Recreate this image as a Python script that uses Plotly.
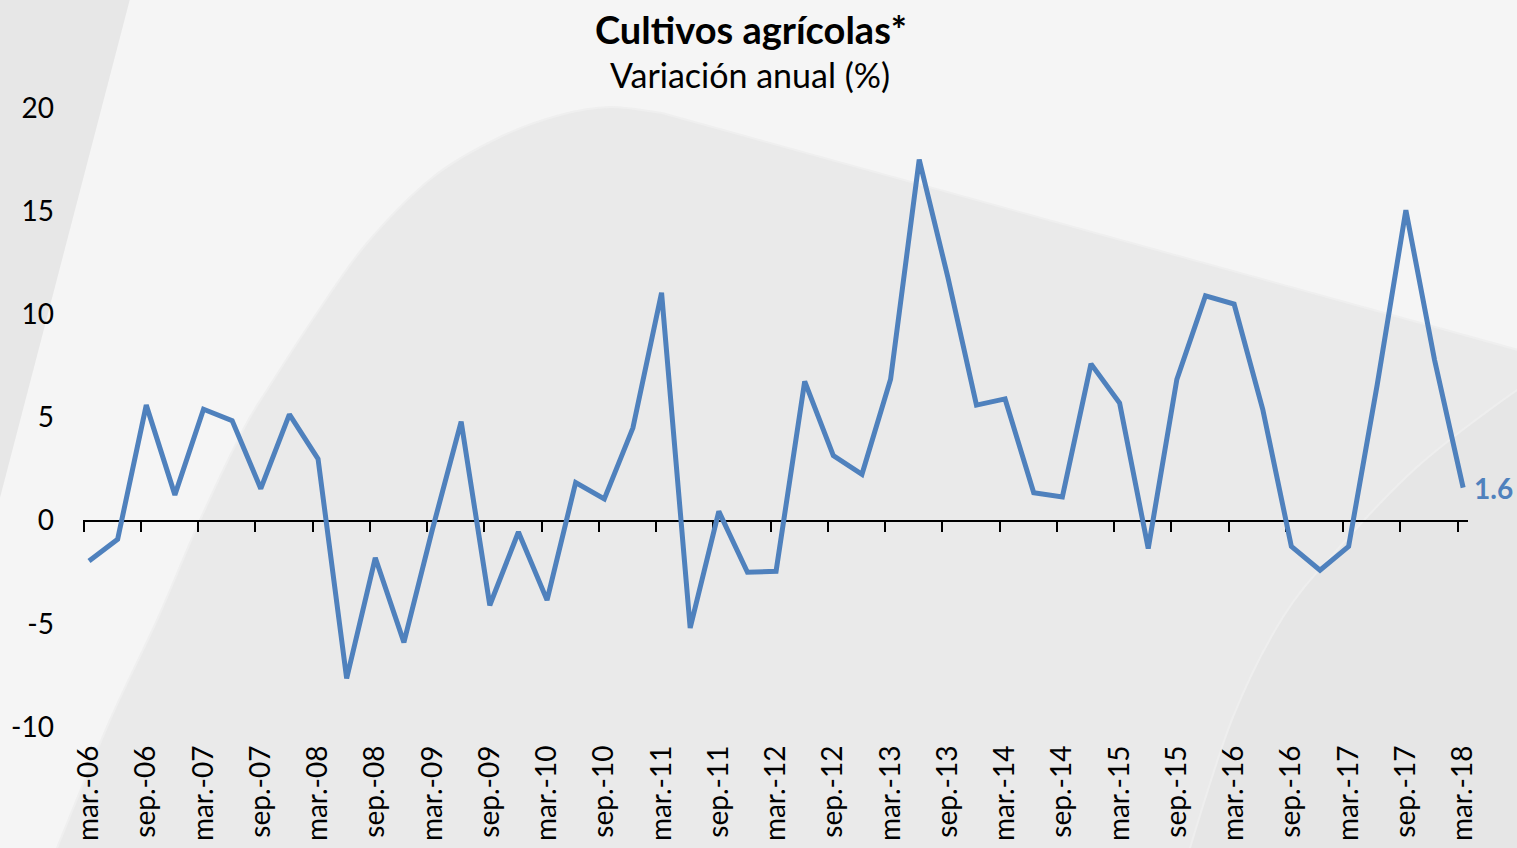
import plotly.graph_objects as go

# ---------------- data ----------------
periods = [
    "mar.-06", "jun.-06", "sep.-06", "dic.-06",
    "mar.-07", "jun.-07", "sep.-07", "dic.-07",
    "mar.-08", "jun.-08", "sep.-08", "dic.-08",
    "mar.-09", "jun.-09", "sep.-09", "dic.-09",
    "mar.-10", "jun.-10", "sep.-10", "dic.-10",
    "mar.-11", "jun.-11", "sep.-11", "dic.-11",
    "mar.-12", "jun.-12", "sep.-12", "dic.-12",
    "mar.-13", "jun.-13", "sep.-13", "dic.-13",
    "mar.-14", "jun.-14", "sep.-14", "dic.-14",
    "mar.-15", "jun.-15", "sep.-15", "dic.-15",
    "mar.-16", "jun.-16", "sep.-16", "dic.-16",
    "mar.-17", "jun.-17", "sep.-17", "dic.-17",
    "mar.-18",
]
variacion = [
    -1.95, -0.9, 5.6, 1.25,
    5.4, 4.85, 1.55, 5.15,
    3.0, -7.65, -1.8, -5.9,
    -0.4, 4.8, -4.1, -0.55,
    -3.85, 1.85, 1.05, 4.5,
    11.05, -5.2, 0.45, -2.5,
    -2.45, 6.75, 3.15, 2.25,
    6.85, 17.5, 11.8, 5.6,
    5.9, 1.35, 1.15, 7.6,
    5.7, -1.35, 6.85, 10.9,
    10.5, 5.4, -1.25, -2.4,
    -1.25, 6.6, 15.05, 7.8,
    1.6,
]
y_ticks = [-10, -5, 0, 5, 10, 15, 20]
y_ticktext = ["-10", "-5", "0", "5", "10", "15", "20"]
title_text = "Cultivos agrícolas*"
subtitle_text = "Variación anual (%)"

# ---------------- layout constants ----------------
W, H = 1517, 848
L, R, T, B = 83, 1468, 108, 727
FONT = "Lato"
BLUE = "#4f81bd"

tick_labels = [p for p in periods if p.startswith("mar") or p.startswith("sep")]
x_range = [-0.21, len(periods) - 1 + 0.17]
tick_marks = [periods.index(p) - 0.19 for p in tick_labels]


def px(x, y):
    return (x - L) / (R - L), (B - y) / (B - T)


def smooth_path(points, close_tail):
    """Catmull-Rom through pixel points -> cubic Bezier path in paper coords."""
    pts = [px(*p) for p in points]
    d = f"M {pts[0][0]:.5f},{pts[0][1]:.5f}"
    for i in range(len(pts) - 1):
        p0 = pts[i - 1] if i > 0 else pts[i]
        p1, p2 = pts[i], pts[i + 1]
        p3 = pts[i + 2] if i + 2 < len(pts) else pts[i + 1]
        c1 = (p1[0] + (p2[0] - p0[0]) / 6, p1[1] + (p2[1] - p0[1]) / 6)
        c2 = (p2[0] - (p3[0] - p1[0]) / 6, p2[1] - (p3[1] - p1[1]) / 6)
        d += f" C {c1[0]:.5f},{c1[1]:.5f} {c2[0]:.5f},{c2[1]:.5f} {p2[0]:.5f},{p2[1]:.5f}"
    for p in close_tail:
        q = px(*p)
        d += f" L {q[0]:.5f},{q[1]:.5f}"
    return d + " Z"


shapes = []
# left darker band
a, b, c = px(-5, -5), px(131, -5), px(-5, 517)
shapes.append(dict(type="path", xref="paper", yref="paper", layer="below",
                   path=f"M {a[0]},{a[1]} L {b[0]},{b[1]} L {c[0]},{c[1]} Z",
                   fillcolor="#e7e7e7", line=dict(width=0)))
# big central hill
big_pts = [(45, 880), (57, 848), (110, 720), (157, 620), (200, 520), (243, 430),
           (267, 390), (317, 313), (367, 243), (433, 177), (500, 137), (560, 115),
           (610, 107), (662, 113)]
shapes.append(dict(type="path", xref="paper", yref="paper", layer="below",
                   path=smooth_path(big_pts, [(1540, 356), (1540, 880)]),
                   fillcolor="#eaeaea", line=dict(width=2, color="#efefef")))
# bottom-right curve
br_pts = [(1183, 880), (1190, 848), (1233, 717), (1283, 617), (1337, 550),
          (1417, 467), (1517, 390), (1540, 382)]
shapes.append(dict(type="path", xref="paper", yref="paper", layer="below",
                   path=smooth_path(br_pts, [(1540, 880)]),
                   fillcolor="#e6e6e6", line=dict(width=2, color="#eeeeee")))

fig = go.Figure()
fig.add_trace(go.Scatter(
    x=periods, y=variacion, mode="lines",
    line=dict(color=BLUE, width=5),
    showlegend=False, hoverinfo="x+y",
))
# helper trace so the zero-line axis is drawn
fig.add_trace(go.Scatter(x=[None], y=[None], xaxis="x2", yaxis="y",
                         mode="lines", showlegend=False, hoverinfo="skip"))

fig.update_layout(
    width=W, height=H,
    margin=dict(l=L, r=W - R, t=T, b=H - B, autoexpand=False),
    paper_bgcolor="#f5f5f5",
    plot_bgcolor="rgba(0,0,0,0)",
    font=dict(family=FONT, color="#000000"),
    shapes=shapes,
    xaxis=dict(
        type="category", range=x_range,
        tickmode="array", tickvals=tick_labels, ticktext=tick_labels,
        tickangle=-90, tickfont=dict(size=28, family=FONT, color="#000"),
        ticks="", showline=False, showgrid=False, zeroline=False,
        ticklabelstandoff=12, automargin=False,
    ),
    xaxis2=dict(
        overlaying="x", anchor="free", position=(0 - y_ticks[0]) / (y_ticks[-1] - y_ticks[0]),
        range=x_range, tickmode="array", tickvals=tick_marks,
        showticklabels=False, ticks="outside", ticklen=10, tickwidth=2,
        tickcolor="#000", showline=True, linecolor="#000", linewidth=2,
        showgrid=False, zeroline=False, layer="below traces", automargin=False,
    ),
    yaxis=dict(
        range=[y_ticks[0], y_ticks[-1]], tickmode="array", tickvals=y_ticks,
        ticktext=y_ticktext,
        tickfont=dict(size=28, family=FONT, color="#000"),
        showgrid=False, zeroline=False, showline=False, ticks="",
        ticklabelstandoff=28, automargin=False,
    ),
    annotations=[
        dict(xref="paper", yref="paper", x=px(751, 0)[0], y=px(0, 29)[1],
             xanchor="center", yanchor="middle", showarrow=False,
             text=f"<b>{title_text}</b>",
             font=dict(size=38, family=FONT, color="#000")),
        dict(xref="paper", yref="paper", x=px(750, 0)[0], y=px(0, 75)[1],
             xanchor="center", yanchor="middle", showarrow=False,
             text=subtitle_text,
             font=dict(size=34, family=FONT, color="#000")),
        dict(x=periods[-1], y=variacion[-1], xref="x", yref="y",
             xanchor="left", yanchor="middle", xshift=9, showarrow=False,
             text=f"<b>{variacion[-1]:.1f}</b>",
             font=dict(size=28, family=FONT, color=BLUE)),
    ],
)

fig.write_html("out.html", config={"displayModeBar": False},
               post_script="document.body.style.margin='0';")
